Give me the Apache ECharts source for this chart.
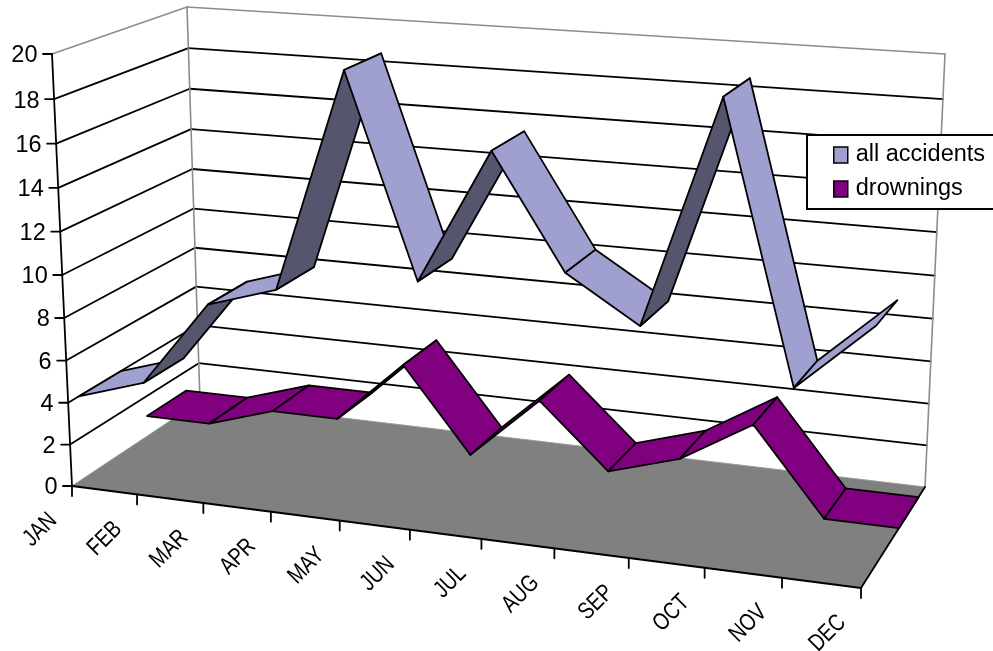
<!DOCTYPE html>
<html>
<head>
<meta charset="utf-8">
<style>html,body{margin:0;padding:0;background:#fff;overflow:hidden}#chart{width:993px;height:651px}</style>
<script src="https://cdn.jsdelivr.net/npm/echarts@6/dist/echarts.min.js"></script>
</head>
<body>
<div id="chart"></div>
<script>
// Monthly accident counts, drawn as two ribbons in a perspective box.
const months = ['JAN','FEB','MAR','APR','MAY','JUN','JUL','AUG','SEP','OCT','NOV','DEC'];
const allAccidents = [4,5,9,10,20,11,17,12,10,20,8,11];
const drownings = [1,1,2,2,5,1,4,1,2,4,0,0];
const valueTicks = [0,2,4,6,8,10,12,14,16,18,20];
const valueMax = 20;

// Box corners on screen: floor and ceiling, each as front-left, front-right, back-right, back-left.
const floorCorners = [[72,486],[861,588],[925,487],[200,401]];
const ceilCorners = [[52,54],[879,113],[945,54],[187,7]];
const verticalBow = 1.0475;          // foreshortening along the height of the box
const floorSqueeze = 0.026;          // extra foreshortening along the floor's month direction
const ceilStretch = 0.035;           // opposite correction at the top of the box
const rowDepth = {all:[0.075,0.385], drown:[0.57,0.89]}; // ribbon extents front to back

const LIGHT = '#A0A0D0', SHADE = '#55556E', PURPLE = '#800080', FLOOR = '#808080', EDGE = '#8C8C8C';
const FONT = '"Liberation Sans", Arial, sans-serif';

// Projective map from the unit square onto a quad.
function quadMap(q) {
  const [[x0,y0],[x1,y1],[x2,y2],[x3,y3]] = q;
  const dx1=x1-x2, dx2=x3-x2, sx=x0-x1+x2-x3, dy1=y1-y2, dy2=y3-y2, sy=y0-y1+y2-y3;
  const den=dx1*dy2-dx2*dy1;
  const g=(sx*dy2-dx2*sy)/den, h=(dx1*sy-sx*dy1)/den;
  const a=x1-x0+g*x1, b=x3-x0+h*x3, d=y1-y0+g*y1, e=y3-y0+h*y3;
  return (u,w)=>{const t=g*u+h*w+1;return [(a*u+b*w+x0)/t,(d*u+e*w+y0)/t];};
}
const floorMap = quadMap(floorCorners), ceilMap = quadMap(ceilCorners);

// Uses the grid position the axes give for a datum, lifted into the box at depth w.
function place(api, cat, val, w) {
  const c = api.coord([cat, val]);
  const r = api.coord([months.length-1, 0]);
  const o = api.coord([0, valueMax]);
  const u = (c[0]-o[0])/(r[0]-o[0]);
  const v0 = (r[1]-c[1])/(r[1]-o[1]);
  const v = v0/(verticalBow-(verticalBow-1)*v0);
  const f = floorMap(u-floorSqueeze*u*(1-u),w), t = ceilMap(u+ceilStretch*u*(1-u),w);
  return [f[0]+(t[0]-f[0])*v, f[1]+(t[1]-f[1])*v];
}
const seg = (a,b,stroke,width)=>({type:'line',shape:{x1:a[0],y1:a[1],x2:b[0],y2:b[1]},style:{stroke,lineWidth:width,lineCap:'round'}});
const label = (s,x,y,o)=>({type:'text',x,y,rotation:o.rotation||0,scaleX:o.scaleX||1,
  style:{text:s,x:0,y:0,align:'right',verticalAlign:'middle',fontSize:o.size,fontFamily:FONT,fill:'#000'}});

function renderFrame(params, api) {
  const kids = [];
  const last = months.length-1;
  const p = (c,v,w)=>place(api,c,v,w);
  // floor
  kids.push({type:'polygon',shape:{points:[p(0,0,0),p(last,0,0),p(last,0,1),p(0,0,1)]},style:{fill:FLOOR,stroke:'none'}});
  kids.push(seg(p(0,0,0),p(0,0,1),'#9A9A9A',1), seg(p(0,0,1),p(last,0,1),'#9A9A9A',1));
  // walls and gridlines
  valueTicks.forEach(t=>{
    if (t===0) return;
    const col = t===valueMax ? EDGE : '#000';
    const lw = t===valueMax ? 1.6 : 1.8;
    kids.push(seg(p(0,t,0),p(0,t,1),col,lw), seg(p(0,t,1),p(last,t,1),col,lw));
  });
  kids.push(seg(p(0,0,1),p(0,valueMax,1),EDGE,1.6), seg(p(last,0,1),p(last,valueMax,1),EDGE,1.6));
  // axes, ticks, labels
  kids.push(seg(p(0,0,0),p(0,valueMax,0),'#000',1.8));
  kids.push(seg(p(0,0,0),p(last,0,0),'#000',1.8), seg(p(last,0,0),p(last,0,1),'#000',1.8));
  valueTicks.forEach(t=>{
    const a=p(0,t,0);
    kids.push(seg(a,[a[0]-9,a[1]],'#000',1.8));
    kids.push(label(String(t),a[0]-14.5,a[1]+2,{size:23.5}));
  });
  months.forEach((m,i)=>{
    const a=p(i,0,0);
    kids.push(seg(a,[a[0],a[1]+10],'#000',1.8));
    kids.push(label(m,a[0]-19,a[1]+31,{size:24,rotation:Math.PI/4,scaleX:0.8}));
  });
  return {type:'group',children:kids};
}

// One quad of a ribbon: from this month to the next, shaded by which face is seen.
function ribbon(depth, topColor, underColor) {
  return function (params, api) {
    const i = params.dataIndex;
    const a = api.value(0), b = api.value(1);
    const fa=place(api,i,a,depth[0]), fb=place(api,i+1,b,depth[0]), ba=place(api,i+1,b,depth[1]), bb=place(api,i,a,depth[1]);
    const cross=(fb[0]-fa[0])*(bb[1]-fa[1])-(fb[1]-fa[1])*(bb[0]-fa[0]);
    return {type:'polygon',shape:{points:[fa,fb,ba,bb]},
      style:{fill:cross<0?topColor:underColor,stroke:'#000',lineWidth:1.8,lineJoin:'round'}};
  };
}
const pairs = arr => arr.slice(0,-1).map((v,i)=>[v,arr[i+1]]);

const chart = echarts.init(document.getElementById('chart'),null,{renderer:'canvas'});
chart.setOption({
  animation:false,
  backgroundColor:'#fff',
  grid:{left:0,right:0,top:0,bottom:0},
  xAxis:{type:'category',data:months,boundaryGap:false,show:false},
  yAxis:{type:'value',min:0,max:valueMax,show:false},
  legend:{
    data:['all accidents','drownings'],orient:'vertical',left:807,top:135,
    backgroundColor:'#fff',borderColor:'#000',borderWidth:2,padding:[7,24,7,26],
    itemWidth:14,itemHeight:16,itemGap:8,icon:'rect',selectedMode:false,
    itemStyle:{borderColor:'#000',borderWidth:1.5},
    textStyle:{fontFamily:FONT,fontSize:23.5,lineHeight:26,color:'#000',padding:[0,0,0,3]}
  },
  series:[
    {type:'custom',name:'frame',silent:true,clip:false,renderItem:renderFrame,data:[[0]],encode:{x:0},z:1},
    {type:'custom',name:'drownings',silent:true,clip:false,renderItem:ribbon(rowDepth.drown,PURPLE,PURPLE),
      data:pairs(drownings),dimensions:['from','to'],itemStyle:{color:PURPLE},z:2},
    {type:'custom',name:'all accidents',silent:true,clip:false,renderItem:ribbon(rowDepth.all,LIGHT,SHADE),
      data:pairs(allAccidents),dimensions:['from','to'],itemStyle:{color:LIGHT},z:3}
  ]
});
</script>
</body>
</html>
